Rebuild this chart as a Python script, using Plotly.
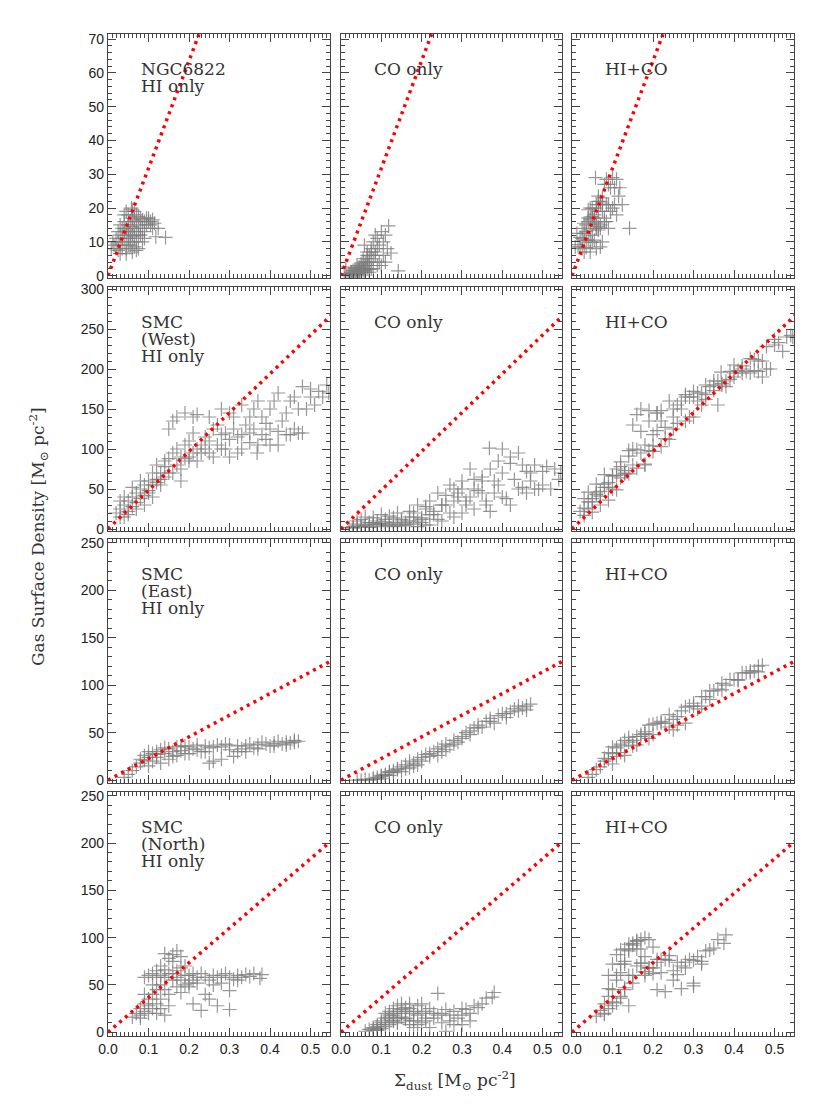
import plotly.graph_objects as go

# ---DATA---
# each row shares the dust x values; HI only, CO only and HI+CO gas values
row_names = [["NGC6822", "HI only"], ["SMC", "(West)", "HI only"],
             ["SMC", "(East)", "HI only"], ["SMC", "(North)", "HI only"]]
col_names = [None, ["CO only"], ["HI+CO"]]

# gas-to-dust ratio of the red dotted line, per row
line_slope = [318, 485, 228, 367]

# NGC6822
x_ngc = [0.015, 0.02, 0.02, 0.025, 0.025, 0.03, 0.03, 0.035, 0.035, 0.04, 0.04, 0.04, 0.045, 0.045, 0.045,
         0.05, 0.05, 0.05, 0.055, 0.055, 0.06, 0.06, 0.06, 0.065, 0.065, 0.07, 0.07, 0.07, 0.075, 0.075,
         0.08, 0.08, 0.085, 0.09, 0.09, 0.095, 0.10, 0.105, 0.11, 0.118, 0.124, 0.142, 0.008, 0.012, 0.058,
         0.03, 0.035, 0.04, 0.045, 0.05, 0.05, 0.055, 0.055, 0.06, 0.06, 0.065, 0.065, 0.07, 0.07, 0.075,
         0.075, 0.08, 0.085, 0.09, 0.095, 0.10, 0.025, 0.03, 0.045, 0.06, 0.065, 0.085, 0.105, 0.11, 0.115]
hi_ngc = [9, 8, 11, 10, 7.5, 12, 9, 14, 11, 10, 13, 16, 12, 8, 6.5,
          15, 11, 18, 13, 9, 17, 12, 7, 14, 19, 16, 10, 13, 15, 8,
          17, 12, 14, 16, 11, 17, 16, 15, 16.5, 11.5, 14, 11.3, 8, 10, 20,
          15, 8, 18, 14, 9, 13.5, 16, 11, 14.5, 10, 11.5, 8.5, 18, 7.5, 12,
          17.5, 14, 10, 13, 15, 17, 13, 6.5, 19, 19.5, 16.5, 16.5, 16, 14, 15.5]
co_ngc = [0.2, 0.5, 0.3, 1, 0.5, 0.5, 1.5, 1, 2, 0.5, 3, 1, 1.5, 2, 0.5,
          2.5, 1, 2, 4, 1.5, 3, 2, 1, 5, 3, 6, 4, 2, 8, 2,
          10, 5, 7, 11, 3, 9, 13, 6, 12, 14.7, 6.7, 1.4, 0.5, 2.5, 9,
          0.5, 0.3, 1.5, 2.5, 0.8, 3.5, 2, 5, 1, 4, 2, 6, 3, 1, 7,
          4, 2, 6, 8, 4, 3, 1, 0.5, 1, 1.5, 7, 12, 10, 4, 8]
tot_ngc = [9.2, 8.5, 11.3, 11, 8, 12.5, 10.5, 15, 13, 10.5, 16, 17, 13.5, 10, 7,
           17.5, 12, 20, 17, 10.5, 20, 14, 8, 19, 22, 22, 14, 15, 23, 10,
           27, 17, 21, 27, 14, 26, 29, 21, 28.5, 26, 21, 14, 8.5, 12.5, 29,
           15.5, 8.3, 19.5, 16.5, 9.8, 17, 18, 16, 15.5, 14, 13.5, 14.5, 21, 8.5, 19,
           21.5, 16, 16, 21, 19, 20, 14, 7, 20, 21, 23.5, 28.5, 26, 18, 23.5]

# SMC West
x_w = [0.02, 0.03, 0.04, 0.04, 0.05, 0.05, 0.06, 0.06, 0.07, 0.07, 0.08, 0.08, 0.09, 0.09, 0.10, 0.10,
       0.11, 0.11, 0.12, 0.12, 0.13, 0.13, 0.14, 0.14, 0.15, 0.15, 0.16, 0.16, 0.17, 0.17, 0.18, 0.18,
       0.19, 0.19, 0.20, 0.20, 0.21, 0.22, 0.22, 0.23, 0.24, 0.25, 0.25, 0.26, 0.27, 0.28, 0.28, 0.29,
       0.30, 0.30, 0.31, 0.32, 0.33, 0.33, 0.35, 0.35, 0.36, 0.37, 0.368, 0.38, 0.39, 0.40, 0.40, 0.42,
       0.42, 0.44, 0.45, 0.46, 0.47, 0.48, 0.50, 0.49, 0.52, 0.545,
       0.03, 0.03, 0.04, 0.05, 0.06, 0.07, 0.08, 0.09, 0.10, 0.11, 0.12, 0.13, 0.14, 0.15, 0.16, 0.17,
       0.18, 0.19, 0.20, 0.21, 0.21, 0.22, 0.23, 0.24, 0.25, 0.26, 0.27, 0.28, 0.29, 0.30, 0.31, 0.32,
       0.33, 0.34, 0.35, 0.36, 0.37, 0.38, 0.39, 0.40, 0.41, 0.42, 0.43, 0.44, 0.45, 0.46, 0.47, 0.48,
       0.50, 0.51, 0.53, 0.54]
hi_w = [20, 25, 30, 15, 35, 22, 40, 28, 45, 33, 50, 38, 55, 42, 60, 48,
        70, 55, 80, 62, 62, 70, 85, 78, 125, 88, 135, 95, 140, 100, 75, 90,
        145, 105, 85, 110, 120, 143, 100, 95, 115, 140, 95, 125, 105, 150, 118, 100,
        145, 112, 125, 95, 155, 118, 140, 108, 125, 160, 95, 118, 132, 150, 105, 170,
        122, 145, 118, 165, 120, 178, 165, 150, 172, 170,
        35, 15, 40, 18, 52, 25, 60, 30, 45, 40, 58, 55, 65, 70, 70, 80,
        60, 88, 90, 140, 95, 85, 105, 100, 110, 90, 130, 100, 120, 90, 140, 115,
        100, 130, 120, 150, 105, 140, 112, 125, 160, 105, 135, 118, 160, 125, 150, 120,
        175, 155, 165, 180]
co_w = [2, 1, 4, 10, 3, 12, 5, 15, 2, 8, 6, 14, 3, 10, 7, 18,
        5, 12, 4, 16, 8, 3, 6, 20, 5, 12, 8, 4, 10, 22, 6, 15,
        3, 30, 12, 8, 25, 5, 35, 18, 45, 10, 30, 30, 55, 15, 50, 40,
        20, 60, 35, 75, 25, 50, 45, 65, 30, 22, 101, 60, 55, 40, 100, 30,
        82, 50, 80, 45, 70, 50, 72, 50, 50, 70,
        3, 2, 6, 3, 4, 5, 8, 6, 5, 9, 6, 14, 4, 10, 6, 15,
        20, 10, 14, 5, 28, 18, 22, 12, 30, 42, 20, 35, 45, 50, 30, 40,
        62, 48, 60, 35, 75, 45, 85, 70, 38, 90, 62, 95, 52, 72, 60, 80,
        55, 78, 75, 62]
tot_w = [22, 26, 34, 25, 38, 34, 45, 43, 47, 41, 56, 52, 58, 52, 67, 66,
         75, 67, 84, 78, 70, 73, 91, 98, 130, 100, 143, 99, 150, 122, 81, 105,
         148, 135, 97, 118, 145, 148, 135, 113, 160, 150, 125, 155, 160, 165, 168, 140,
         165, 172, 160, 170, 180, 168, 185, 173, 155, 182, 196, 178, 187, 190, 205, 200,
         204, 195, 198, 210, 190, 228, 237, 200, 222, 240,
         38, 17, 46, 21, 56, 30, 68, 36, 50, 49, 64, 69, 69, 80, 76, 95,
         80, 98, 104, 145, 123, 103, 127, 112, 140, 132, 150, 135, 165, 140, 170, 155,
         162, 178, 180, 185, 180, 185, 197, 195, 198, 195, 197, 213, 212, 197, 210, 200,
         230, 233, 240, 242]

# SMC East
x_e = [0.04, 0.05, 0.06, 0.07, 0.08, 0.09, 0.09, 0.10, 0.10, 0.11, 0.11, 0.12, 0.12, 0.13, 0.13, 0.14,
       0.15, 0.15, 0.16, 0.17, 0.17, 0.18, 0.19, 0.19, 0.20, 0.21, 0.22, 0.23, 0.24, 0.25, 0.25, 0.26,
       0.27, 0.28, 0.29, 0.30, 0.31, 0.32, 0.33, 0.34, 0.35, 0.36, 0.37, 0.38, 0.39, 0.40, 0.41, 0.42,
       0.43, 0.44, 0.45, 0.46, 0.47,
       0.08, 0.10, 0.12, 0.14, 0.16, 0.18, 0.20, 0.22, 0.24, 0.26, 0.28, 0.30, 0.32, 0.34, 0.37, 0.41,
       0.44, 0.46]
hi_e = [3, 6, 10, 14, 18, 21, 26, 24, 15, 28, 20, 30, 24, 32, 18, 28,
        33, 22, 30, 35, 26, 31, 36, 28, 35, 33, 37, 30, 36, 18, 34, 20,
        37, 35, 38, 32, 25, 30, 33, 36, 38, 34, 37, 40, 38, 36, 39, 41,
        38, 40, 39, 42, 41,
        22, 30, 27, 34, 25, 36, 28, 32, 30, 35, 22, 37, 36, 30, 33, 36,
        37, 40]
co_e = [0, 0, 1, 0, 2, 1, 3, 4, 2, 6, 5, 8, 5, 10, 8, 12,
        9, 14, 16, 13, 20, 18, 22, 16, 24, 27, 25, 30, 33, 35, 30, 38,
        36, 42, 40, 46, 50, 48, 55, 58, 56, 62, 65, 60, 68, 70, 66, 72,
        75, 73, 76, 78, 80,
        1, 5, 9, 11, 12, 15, 20, 28, 26, 32, 38, 44, 52, 55, 62, 70,
        78, 74]
tot_e = [3, 6, 11, 14, 20, 22, 29, 28, 17, 34, 25, 38, 29, 42, 26, 40,
         42, 36, 46, 48, 46, 49, 58, 44, 59, 60, 62, 60, 69, 53, 64, 58,
         73, 77, 78, 78, 75, 78, 88, 94, 94, 96, 102, 100, 106, 106, 105, 113,
         113, 113, 115, 120, 121,
         23, 35, 36, 45, 37, 51, 48, 60, 56, 67, 60, 81, 88, 85, 95, 106,
         115, 114]

# SMC North
x_n = [0.06, 0.07, 0.09, 0.08, 0.08, 0.09, 0.09, 0.10, 0.10, 0.10, 0.11, 0.11, 0.11, 0.12, 0.12, 0.12,
       0.13, 0.13, 0.13, 0.14, 0.14, 0.14, 0.15, 0.15, 0.16, 0.16, 0.17, 0.17, 0.17, 0.18, 0.18, 0.19,
       0.19, 0.20, 0.20, 0.21, 0.21, 0.22, 0.23, 0.23, 0.24, 0.25, 0.25, 0.26, 0.27, 0.27, 0.28, 0.29,
       0.30, 0.30, 0.30, 0.31, 0.32, 0.33, 0.35, 0.36, 0.375, 0.38,
       0.08, 0.09, 0.10, 0.11, 0.12, 0.12, 0.13, 0.13, 0.14, 0.14, 0.15, 0.15, 0.16, 0.16, 0.17, 0.18,
       0.18, 0.19, 0.20, 0.21, 0.22, 0.24, 0.26, 0.28, 0.32, 0.34]
hi_n = [16, 20, 58, 25, 18, 30, 22, 35, 28, 60, 40, 25, 62, 45, 30, 65,
        50, 35, 70, 58, 83, 18, 62, 40, 75, 55, 86, 65, 48, 80, 55, 70,
        50, 60, 52, 55, 30, 58, 23, 62, 40, 55, 35, 60, 28, 58, 52, 62,
        44, 24, 58, 56, 60, 58, 59, 62, 57, 61,
        15, 40, 20, 50, 58, 20, 60, 25, 66, 45, 78, 28, 62, 82, 58, 68,
        42, 60, 48, 62, 52, 58, 50, 60, 55, 61]
co_n = [1, 3, 2, 5, 2, 8, 3, 10, 4, 12, 15, 6, 20, 18, 8, 22,
        25, 12, 18, 28, 10, 10, 30, 20, 22, 15, 12, 8, 25, 20, 5, 28,
        18, 30, 10, 22, 15, 5, 20, 15, 41, 10, 20, 1, 18, 12, 22, 15,
        8, 25, 18, 24, 12, 28, 30, 36, 37, 42,
        4, 6, 8, 10, 14, 16, 12, 20, 22, 15, 16, 24, 26, 14, 30, 12,
        22, 8, 20, 12, 25, 18, 24, 8, 20, 26]
tot_n = [17, 23, 60, 30, 20, 38, 25, 45, 32, 72, 55, 31, 82, 63, 38, 87,
         75, 47, 88, 86, 93, 28, 92, 60, 97, 70, 98, 73, 73, 100, 60, 98,
         68, 90, 62, 77, 45, 63, 43, 77, 81, 65, 55, 61, 46, 70, 74, 77,
         52, 49, 76, 80, 72, 86, 89, 98, 94, 103,
         19, 46, 28, 60, 72, 36, 72, 45, 88, 60, 94, 52, 88, 96, 88, 80,
         64, 68, 68, 74, 77, 76, 74, 68, 75, 87]

rows = [
    (x_ngc, [hi_ngc, co_ngc, tot_ngc]),
    (x_w, [hi_w, co_w, tot_w]),
    (x_e, [hi_e, co_e, tot_e]),
    (x_n, [hi_n, co_n, tot_n]),
]

y_ranges = [[-0.7, 71.5], [-2.5, 302.5], [-3, 254], [-4, 254]]
y_dtick = [10, 50, 50, 50]
y_minor = [2, 10, 10, 10]

# pixel boxes of the panels (page pixels); the page body adds an 8px margin
PAD = 8
col_px = [(108, 330), (341, 562), (572, 794)]
row_px = [(34, 278), (287, 531), (539, 783), (792, 1036)]
W, H = 830 - 2 * PAD, 1106 - 2 * PAD


def fx(px):
    return (px - PAD) / W


def fy(py):
    return 1 - (py - PAD) / H


fig = go.Figure()

tick_font = dict(family="Liberation Sans", size=14, color="#222222")
label_font = dict(family="DejaVu Serif", size=17, color="#333333")

for r in range(4):
    xs, ys_list = rows[r]
    for c in range(3):
        n = r * 3 + c + 1
        xa = "x" if n == 1 else "x%d" % n
        ya = "y" if n == 1 else "y%d" % n
        # scatter of pixels
        fig.add_trace(go.Scatter(
            x=xs, y=ys_list[c],
            mode="markers",
            marker=dict(symbol="cross-thin", size=10,
                        line=dict(color="rgba(125,125,125,0.8)", width=1.2)),
            xaxis=xa, yaxis=ya, showlegend=False))
        # dotted gas-to-dust line
        fig.add_trace(go.Scatter(
            x=[0, 0.6], y=[0, line_slope[r] * 0.6],
            mode="lines",
            line=dict(color="#ff0000", width=3.5, dash="3px,4.5px"),
            xaxis=xa, yaxis=ya, showlegend=False))

        x0, x1 = col_px[c]
        y0, y1 = row_px[r]
        axis_common = dict(
            showline=True, linecolor="#444444", linewidth=1.2, mirror="ticks",
            ticks="inside", ticklen=8, tickcolor="#444444", tickwidth=1,
            showgrid=False, zeroline=False, tickfont=tick_font, automargin=False,
        )
        fig.layout["xaxis" if n == 1 else "xaxis%d" % n] = dict(
            axis_common,
            domain=[fx(x0), fx(x1)], anchor=ya, range=[0, 0.548],
            dtick=0.1, tick0=0, tickformat=".1f", showticklabels=(r == 3),
            minor=dict(dtick=0.01, ticklen=4, ticks="inside", tickcolor="#444444"),
        )
        fig.layout["yaxis" if n == 1 else "yaxis%d" % n] = dict(
            axis_common,
            domain=[fy(y1), fy(y0)], anchor=xa, range=y_ranges[r],
            dtick=y_dtick[r], tick0=0, showticklabels=(c == 0),
            minor=dict(dtick=y_minor[r], ticklen=4, ticks="inside", tickcolor="#444444"),
        )
        lines = row_names[r] if c == 0 else col_names[c]
        for i, line in enumerate(lines):
            fig.add_annotation(
                xref=xa + " domain", yref=ya + " domain",
                x=31 / 222, y=1 - (35 + 17 * i) / 244,
                xanchor="left", yanchor="middle", align="left",
                text=line, showarrow=False, font=label_font)

# axis titles
fig.add_annotation(
    xref="paper", yref="paper", x=fx(455), y=fy(1080),
    xanchor="center", yanchor="middle",
    text="Σ<sub>dust</sub> [M<sub>⊙</sub> pc<sup>-2</sup>]",
    showarrow=False, font=dict(family="DejaVu Serif", size=17, color="#333333"))
fig.add_annotation(
    xref="paper", yref="paper", x=fx(38), y=fy(537), textangle=-90,
    xanchor="center", yanchor="middle",
    text="Gas Surface Density [M<sub>⊙</sub> pc<sup>-2</sup>]",
    showarrow=False, font=dict(family="DejaVu Serif", size=17, color="#333333"))

fig.update_layout(
    autosize=False, width=W, height=H,
    margin=dict(l=0, r=0, t=0, b=0),
    plot_bgcolor="white", paper_bgcolor="white",
)

fig.write_html("out.html")
